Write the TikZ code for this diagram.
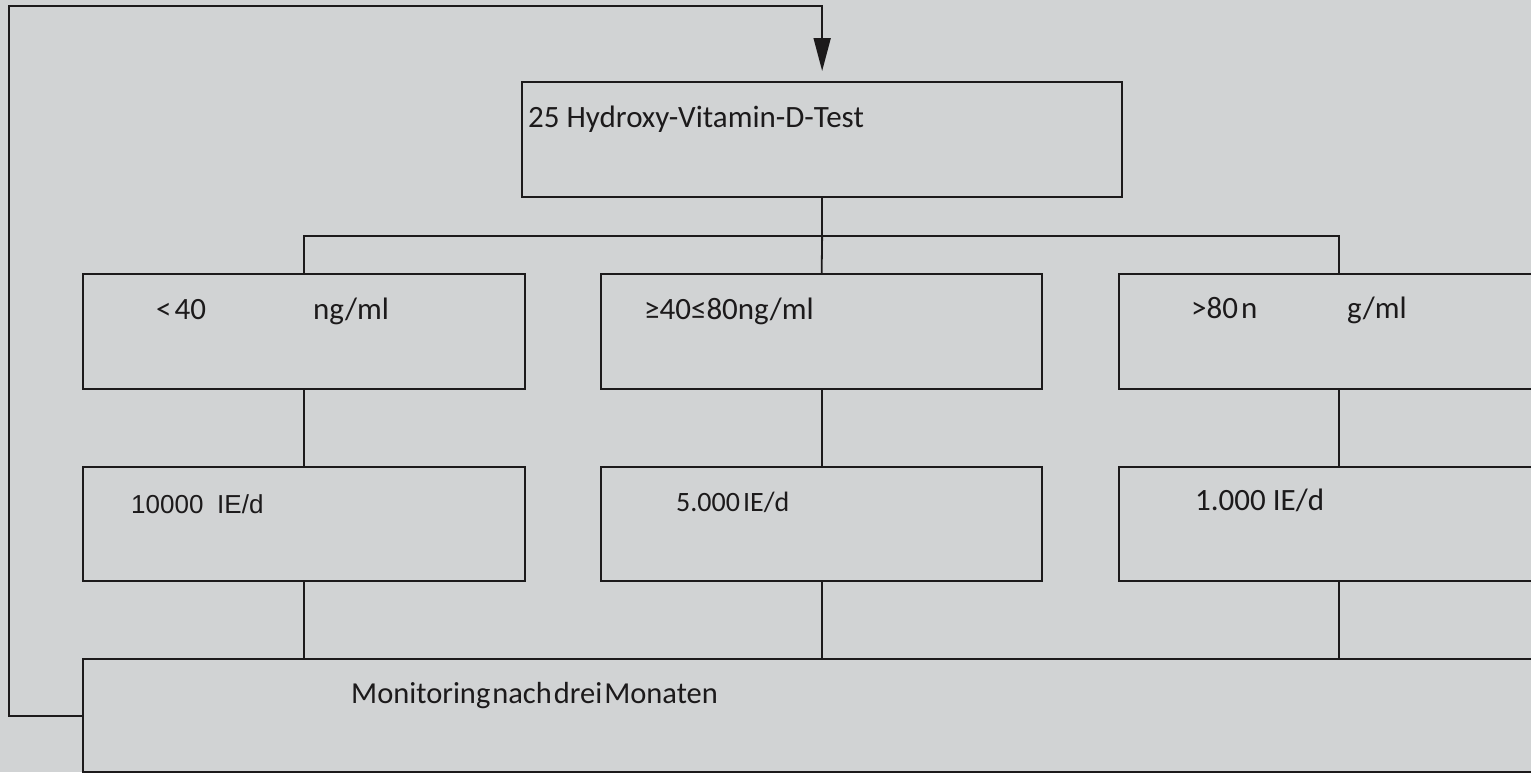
\documentclass[tikz,border=0pt]{standalone}
\usepackage{fontspec}
\setmainfont{Carlito}
\newfontfamily\arialf{Liberation Sans}
\usetikzlibrary{arrows.meta}
\definecolor{bg}{RGB}{209,211,212}
\definecolor{ink}{RGB}{28,26,27}
\tikzset{
  box/.style={draw=ink, fill=bg, line width=2.3pt, rectangle, inner sep=0pt, anchor=north west},
  conn/.style={draw=ink, line width=1.8pt},
  txt/.style={anchor=base west, inner sep=0pt, text=ink, font=\fontsize{31}{36}\selectfont},
  txtar/.style={anchor=base west, inner sep=0pt, text=ink, font=\arialf\fontsize{26}{30}\selectfont},
}
\begin{document}
\begin{tikzpicture}[x=1pt,y=-1pt]
\useasboundingbox (0,0) rectangle (1531,772);
\clip (0,0) rectangle (1531,772);
\fill[bg] (0,0) rectangle (1531,772);
% boxes
\node[box, minimum width=600, minimum height=115] (top) at (521,81) {};
\node[box, minimum width=442, minimum height=115] (a1) at (82,273) {};
\node[box, minimum width=441, minimum height=115] (b1) at (600,273) {};
\node[box, minimum width=440, minimum height=115] (c1) at (1118,273) {};
\node[box, minimum width=442, minimum height=114] (a2) at (82,466) {};
\node[box, minimum width=441, minimum height=114] (b2) at (600,466) {};
\node[box, minimum width=440, minimum height=114] (c2) at (1118,466) {};
\node[box, minimum width=1480, minimum height=113] (mon) at (82,658) {};
% connectors
\draw[conn] (top.south) -- ++(0,38) coordinate (j);
\draw[conn] (a1.north) -- (a1.north |- j) -- (c1.north |- j) -- (c1.north);
\draw[conn] (j) -- (b1.north);
\draw[conn] (a1.south) -- (a2.north);
\draw[conn] (b1.south) -- (b2.north);
\draw[conn] (c1.south) -- (c2.north);
\draw[conn] (a2.south) -- (a2.south |- mon.north);
\draw[conn] (b2.south) -- (b2.south |- mon.north);
\draw[conn] (c2.south) -- (c2.south |- mon.north);
\coordinate (loop) at (9,6);
\coordinate (tip) at ([yshift=10pt]top.north);
\draw[conn, -{Triangle[length=33pt,width=17pt]}] (mon.west) -| (loop) -| (tip);
% texts
\node[txt] (t0) at (528,127) {25 Hydroxy-Vitamin-D-Test};
\node[txt] (t1) at (156,319) {<\kern3pt 40};
\node[txt] (t1b) at (313,319) {ng/ml};
\node[txt] (t2) at (644,319) {≥40≤80ng/ml};
\node[txt] (t3) at (1191,318) {>80\kern3pt n};
\node[txt] (t3b) at (1347,318) {g/ml};
\node[txtar] (d1) at (131,513) {10000};
\node[txtar] (d1b) at (217,513) {IE/d};
\node[txt, font=\fontsize{28}{32}\selectfont] (d2) at (676,511) {5.000\kern3pt IE/d};
\node[txt] (d3) at (1195,510) {1.000 IE/d};
\node[txt, font=\fontsize{30.5}{34}\selectfont] (m) at (351,703) {\spaceskip=2pt\relax Monitoring nach drei Monaten};
\end{tikzpicture}
\end{document}
